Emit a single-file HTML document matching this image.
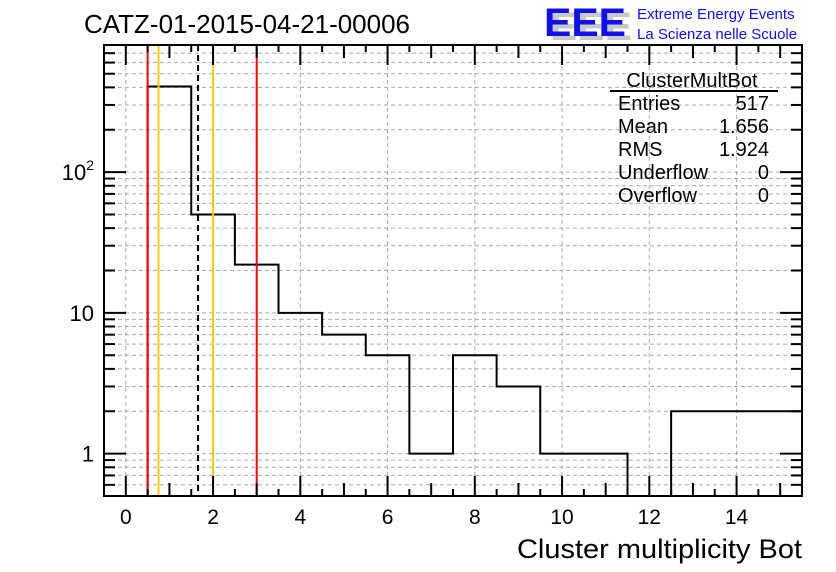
<!DOCTYPE html>
<html><head><meta charset="utf-8"><style>
body{margin:0;background:#fff;}
svg{display:block;font-family:"Liberation Sans",sans-serif;}
</style></head><body>
<svg id="c" width="836" height="572">
<text x="84" y="33" font-size="26" textLength="326" lengthAdjust="spacingAndGlyphs">CATZ-01-2015-04-21-00006</text>
<g>
<text x="550" y="40" font-size="40" font-weight="bold" fill="#c8c8c8" textLength="82" lengthAdjust="spacingAndGlyphs">EEE</text>
<text x="544" y="36" font-size="40" font-weight="bold" fill="#1010ee" textLength="82" lengthAdjust="spacingAndGlyphs">EEE</text>
<text x="637" y="19" font-size="15" fill="#1010ee">Extreme Energy Events</text>
<text x="637" y="39" font-size="15" fill="#1010ee">La Scienza nelle Scuole</text>
</g>
<g id="grid"></g>
<g id="marks"></g>
<rect x="104" y="45" width="698" height="451" fill="none" stroke="#000" stroke-width="2"/>
<g id="axes"></g>
<g font-size="20">
<text x="692" y="87" text-anchor="middle">ClusterMultBot</text>
<line x1="610" y1="91" x2="778" y2="91" stroke="#000" stroke-width="2"/>
<text x="618" y="110">Entries</text><text x="769" y="110" text-anchor="end">517</text>
<text x="618" y="133">Mean</text><text x="769" y="133" text-anchor="end">1.656</text>
<text x="618" y="156">RMS</text><text x="769" y="156" text-anchor="end">1.924</text>
<text x="618" y="179">Underflow</text><text x="769" y="179" text-anchor="end">0</text>
<text x="618" y="202">Overflow</text><text x="769" y="202" text-anchor="end">0</text>
</g>
<text x="802" y="558" font-size="27" text-anchor="end" textLength="285" lengthAdjust="spacingAndGlyphs">Cluster multiplicity Bot</text>
</svg>
<script>
const binLow = [0.5,1.5,2.5,3.5,4.5,5.5,6.5,7.5,8.5,9.5,10.5,11.5,12.5,13.5,14.5];
const counts = [406,50,22,10,7,5,1,5,3,1,1,0,2,2,2];
const xTicks = [0,2,4,6,8,10,12,14];
const yTickVals = [1,10,100];
const yTickLabels = ["1","10","10²"];
const vLines = [{v:0.5,c:"#ff0000"},{v:3.0,c:"#ff0000"},{v:0.75,c:"#ffcc00"},{v:2.0,c:"#ffcc00"},{v:1.656,c:"#000",d:true}];
const X0=104,X1=802,Y0=496,Y1=45,xmin=-0.5,xmax=15.5,ymin=0.5,ymax=800;
const sx=v=>X0+(v-xmin)/(xmax-xmin)*(X1-X0);
const sy=v=>Y0-(Math.log10(v)-Math.log10(ymin))/(Math.log10(ymax)-Math.log10(ymin))*(Y0-Y1);
const NS="http://www.w3.org/2000/svg";
function mk(t,a,p){const e=document.createElementNS(NS,t);for(const k in a)e.setAttribute(k,a[k]);p.appendChild(e);return e;}
const grid=document.getElementById('grid'),marks=document.getElementById('marks'),axes=document.getElementById('axes');
xTicks.forEach(v=>{const l=mk('line',{x1:sx(v),x2:sx(v),y1:Y1,y2:Y0,stroke:'#aaa','stroke-dasharray':'4,3'},grid);

});
for(let e=-1;e<=2;e++)for(let m=1;m<=9;m++){const v=m*Math.pow(10,e);if(v<ymin||v>ymax)continue;const y=sy(v);
const l=mk('line',{x1:X0,x2:X1,y1:y,y2:y,stroke:'#aaa','stroke-dasharray':'4,3'},grid);


const big=(m===1);
const t1=mk('line',{x1:X0,x2:X0+(big?22:11),y1:y,y2:y,stroke:'#000','stroke-width':2},axes);


const t2=mk('line',{x1:X1,x2:X1-(big?22:11),y1:y,y2:y,stroke:'#000','stroke-width':2},axes);

}
for(let v=0;v<=15;v+=0.5){const big=Number.isInteger(v/2),x=sx(v),len=big?20:(Number.isInteger(v)?13:7);
const a=mk('line',{x1:x,x2:x,y1:Y0,y2:Y0-len,stroke:'#000','stroke-width':2},axes);


const b=mk('line',{x1:x,x2:x,y1:Y1,y2:Y1+len,stroke:'#000','stroke-width':2},axes);

}
xTicks.forEach(v=>{const t=mk('text',{x:sx(v),y:524,'font-size':21,'text-anchor':'middle'},axes);t.textContent=v;

});
yTickVals.forEach((v,i)=>{const t=mk('text',{x:94,y:sy(v)+8,'font-size':22,'text-anchor':'end'},axes);
if(i===2){t.textContent='10';const s=mk('tspan',{dy:-10,'font-size':14},t);s.textContent='2';}else t.textContent=yTickLabels[i];

});
let d='';const fy=v=>v>0?Math.max(Y1,sy(v)):Y0;
binLow.forEach((lo,i)=>{const y=fy(counts[i]);d+=(i===0?`M${sx(lo)},${Y0}L${sx(lo)},${y}`:`L${sx(lo)},${y}`)+`L${sx(lo+1)},${y}`;});
const h=mk('path',{d:d,fill:'none',stroke:'#000','stroke-width':2},marks);


vLines.forEach(o=>{const a={x1:sx(o.v),x2:sx(o.v),y1:Y1,y2:Y0,stroke:o.c,'stroke-width':2};if(o.d)a['stroke-dasharray']='6,4';
const l=mk('line',a,marks);

});
</script>
</body></html>
